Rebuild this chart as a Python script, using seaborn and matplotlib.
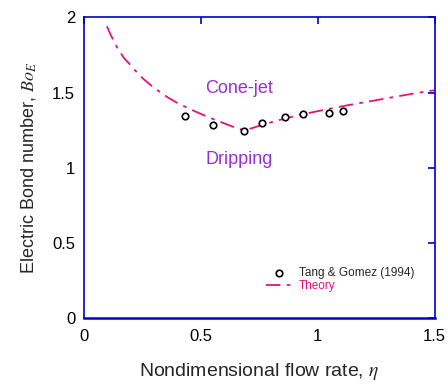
import matplotlib
matplotlib.use("Agg")
import matplotlib.pyplot as plt
import seaborn as sns
import pandas as pd

# Experimental data (Tang & Gomez 1994)
exp_eta = [0.434, 0.553, 0.687, 0.764, 0.861, 0.937, 1.049, 1.108]
exp_bo = [1.346, 1.284, 1.245, 1.296, 1.336, 1.356, 1.365, 1.376]

# Theory curve
th_eta = [0.100, 0.116, 0.131, 0.145, 0.173, 0.202, 0.228, 0.256, 0.298, 0.330, 0.362, 0.400,
          0.434, 0.475, 0.515, 0.560, 0.600, 0.640, 0.685, 0.692,
          0.760, 0.825, 0.92, 1.025, 1.13, 1.239, 1.35, 1.459, 1.50]
th_bo = [1.940, 1.884, 1.838, 1.796, 1.729, 1.681, 1.634, 1.590, 1.535, 1.500, 1.466, 1.432,
         1.406, 1.376, 1.349, 1.320, 1.296, 1.272, 1.249, 1.250,
         1.283, 1.313, 1.350, 1.384, 1.416, 1.446, 1.477, 1.506, 1.515]

xticks = [0, 0.5, 1, 1.5]
xticklabels = ["0", "0.5", "1", "1.5"]
yticks = [0, 0.5, 1, 1.5, 2]
yticklabels = ["0", "0.5", "1", "1.5", "2"]

sns.set_style("white")
plt.rcParams['font.family'] = ['Liberation Sans', 'DejaVu Sans']
plt.rcParams['mathtext.fontset'] = 'stix'

fig = plt.figure(figsize=(4.48, 3.85), dpi=100)
ax = fig.add_axes([83.5/448, 1 - 318.3/385, (434.5-83.5)/448, (318.3-17.3)/385])

pink = "#E8107E"
purple = "#9A2FD0"
blue = "#0000CC"

df_th = pd.DataFrame({"eta": th_eta, "bo": th_bo})
df_ex = pd.DataFrame({"eta": exp_eta, "bo": exp_bo})

sns.lineplot(data=df_th, x="eta", y="bo", ax=ax, color=pink, lw=1.3,
             dashes=False, label="Theory", sort=False)
ax.lines[-1].set_dashes([8, 3.5, 2, 3.5])
sns.scatterplot(data=df_ex, x="eta", y="bo", ax=ax, marker="o", s=22,
                facecolor="white", edgecolor="black", linewidth=1.2,
                label="Tang & Gomez (1994)", zorder=3)

ax.set_xlim(0, 1.5)
ax.set_ylim(0, 2)
ax.set_xticks(xticks)
ax.set_xticklabels(xticklabels)
ax.set_yticks(yticks)
ax.set_yticklabels(yticklabels)

for s in ax.spines.values():
    s.set_color(blue)
    s.set_linewidth(1.2)
    s.set_visible(True)
ax.spines['bottom'].set_linewidth(1.8)

ax.tick_params(direction="in", length=5, width=1.2, color=blue,
               top=True, right=True, labelsize=12, labelcolor="black", pad=6)
ax.tick_params(axis='x', pad=8)

ax.set_xlabel(r"Nondimensional flow rate, $\mathit{\eta}$", fontsize=14, labelpad=12)
ax.set_ylabel(r"Electric Bond number, $\mathit{Bo}_{\mathit{E}}$", fontsize=13, labelpad=10)

ax.text(0.665, 1.528, "Cone-jet", color=purple, fontsize=13, ha="center", va="center")
ax.text(0.665, 1.052, "Dripping", color=purple, fontsize=13, ha="center", va="center")

handles, labels = ax.get_legend_handles_labels()
order = [labels.index("Tang & Gomez (1994)"), labels.index("Theory")]
leg = ax.legend([handles[i] for i in order], [labels[i] for i in order],
                loc="upper left", bbox_to_anchor=(0.489, 0.207), frameon=False,
                fontsize=8.5, handlelength=2.3, handletextpad=0.5, labelspacing=0.1)
for t in leg.get_texts():
    if t.get_text() == "Theory":
        t.set_color(pink)

fig.savefig("out.png", dpi=100)
